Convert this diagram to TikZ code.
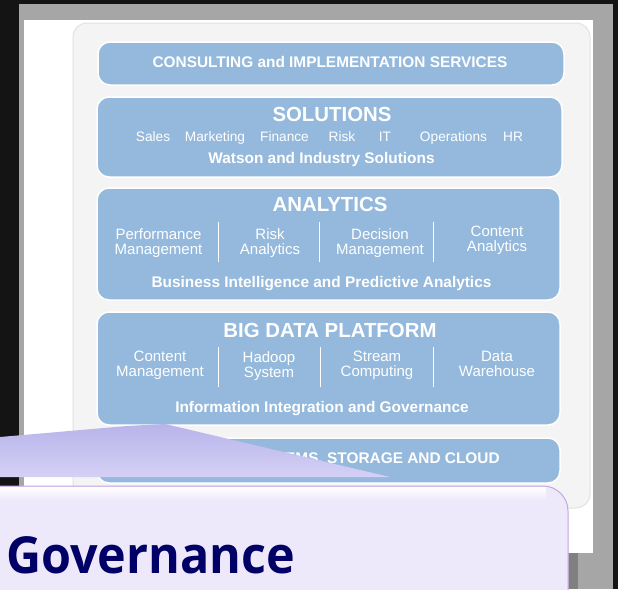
\documentclass[tikz,border=0pt]{standalone}
\usepackage{fontspec}
\setmainfont{Liberation Sans}
\newfontfamily\govfont[FakeStretch=0.95]{Open Sans}
\definecolor{frameGray}{RGB}{166,166,166}
\definecolor{panelGray}{RGB}{244,244,244}
\definecolor{panelEdge}{RGB}{226,226,226}
\definecolor{barBlue}{RGB}{148,185,220}
\definecolor{tipTop}{RGB}{184,180,234}
\definecolor{tipBot}{RGB}{212,208,245}
\definecolor{boxLav}{RGB}{238,232,251}
\definecolor{boxEdge}{RGB}{196,166,226}
\definecolor{shadowGray}{RGB}{128,128,128}
\definecolor{govBlue}{RGB}{0,0,102}
\begin{document}
\begin{tikzpicture}[x=1pt,y=-1pt,
    bar/.style={fill=barBlue,draw=white,line width=1.5pt,rounded corners=12pt,inner sep=0pt},
    bartext/.style={text=white,font=\bfseries\fontsize{15.4}{16}\selectfont,inner sep=0pt,anchor=base},
    title/.style={text=white,font=\bfseries\fontsize{20.4}{21}\selectfont,inner sep=0pt,anchor=base},
    item/.style={text=white,font=\fontsize{13.7}{14}\selectfont,inner sep=0pt,anchor=base},
    col/.style={text=white,font=\fontsize{15}{15}\selectfont,inner sep=0pt,anchor=north,align=center},
    sep/.style={draw=white,line width=0.8pt}]
    \useasboundingbox (0,0) rectangle (618,589);
    % frame and page
    \fill[black!92] (0,0) rectangle (618,589);
    \fill[frameGray] (19,4) rectangle (613,589);
    \fill[white] (24,20) rectangle (593,553);
    \draw[fill=panelGray,draw=panelEdge,line width=1pt,rounded corners=14pt] (73,23) rectangle (590,508);
    % layers
    \node[bar,minimum width=466pt,minimum height=43pt] (consult) at (331,63.5) {};
    \node[bartext] (consultT) at (330,67) {CONSULTING and IMPLEMENTATION SERVICES};
    \node[bar,minimum width=465pt,minimum height=80pt] (solutions) at (329.5,137) {};
    \node[title] (solT) at (332,121) {SOLUTIONS};
    \node[item] (sales) at (153,141) {Sales};
    \node[item] (marketing) at (215,141) {Marketing};
    \node[item] (finance) at (284.5,141) {Finance};
    \node[item] (risk) at (342,141) {Risk};
    \node[item] (it) at (385,141) {IT};
    \node[item] (operations) at (453.5,141) {Operations};
    \node[item] (hr) at (513,141) {HR};
    \node[bartext] (watson) at (321.5,163) {Watson and Industry Solutions};
    \node[bar,minimum width=463pt,minimum height=112pt] (analytics) at (328.5,244) {};
    \node[title] (anaT) at (330,211.5) {ANALYTICS};
    \node[col] (perf) at (158.5,228) {Performance\\Management};
    \node[col] (riskA) at (270,228) {Risk\\Analytics};
    \node[col] (decision) at (380,228) {Decision\\Management};
    \node[col] (contentA) at (497,226) {Content\\Analytics};
    \draw[sep] (218,222) -- (218,262);
    \draw[sep] (319,222) -- (319,262);
    \draw[sep] (433,222) -- (433,262);
    \node[bartext] (bi) at (321.5,287) {Business Intelligence and Predictive Analytics};
    \node[bar,minimum width=463pt,minimum height=113pt] (bigdata) at (328.5,368.5) {};
    \node[title] (bigT) at (330,337) {BIG DATA PLATFORM};
    \node[col] (contentM) at (160,351) {Content\\Management};
    \node[col] (hadoop) at (269,351) {Hadoop\\System};
    \node[col] (stream) at (377,351) {Stream\\Computing};
    \node[col] (warehouse) at (497,351) {Data\\Warehouse};
    \draw[sep] (218,347) -- (218,387);
    \draw[sep] (320,347) -- (320,387);
    \draw[sep] (433,347) -- (433,387);
    \node[bartext] (iig) at (322,412) {Information Integration and Governance};
    \node[bar,minimum width=463pt,minimum height=45pt] (storage) at (328.5,460.5) {};
    \node[bartext] (storT) at (330,463) {SECURITY, SYSTEMS, STORAGE AND CLOUD};
    % callout
    \shade[top color=tipTop,bottom color=tipBot] (0,437) -- (127,426) -- (165,424) -- (390,477) -- (0,477) -- cycle;
    \fill[shadowGray] (569,553) rectangle (578,589);
    \path[fill=boxLav,draw=boxEdge,line width=1pt,rounded corners=25pt] (-30,620) -- (-30,486) -- (568,486) -- (568,620);
    \shade[top color=white,bottom color=boxLav] (0,487.5) rectangle (546,500);
    \node[anchor=base west,inner sep=0pt,text=govBlue,font=\govfont\bfseries\fontsize{51}{51}\selectfont] (gov) at (6,573) {Governance};
\end{tikzpicture}
\end{document}
